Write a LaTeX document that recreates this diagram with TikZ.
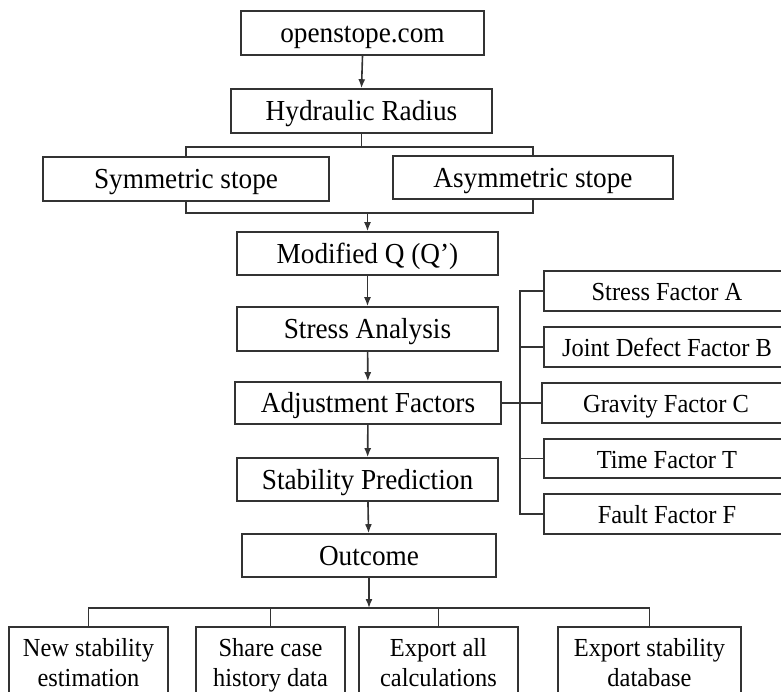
\documentclass[tikz,border=0pt]{standalone}
\usepackage{fontspec}
\setmainfont[FakeStretch=0.94]{Liberation Serif}
\usetikzlibrary{arrows.meta}
\begin{document}
\begin{tikzpicture}[x=1pt, y=-1pt, line width=1.6pt, draw=black!80,
	>={Latex[length=9pt,width=7pt]},
	box/.style={draw=black!80, rectangle, inner sep=0pt, minimum height=44pt, text height=19pt, text depth=0pt, font=\fontsize{29}{32}\selectfont},
	factor/.style={box, minimum width=246pt, minimum height=40pt, font=\fontsize{26}{28}\selectfont},
	result/.style={draw=black!80, rectangle, inner sep=0pt, minimum height=76pt, align=center, font=\fontsize{26}{30}\selectfont}]
\clip (0,0) rectangle (781,691);
% Kaesten links
	\node [box, minimum width=243pt] (site) at (362.5,33) {openstope.com};
	\node [box, minimum width=261pt] (hr) at (361.5,111) {Hydraulic Radius};
	\node [box, minimum width=286pt] (sym) at (186,179) {Symmetric stope};
	\node [box, minimum width=280pt, minimum height=43pt] (asym) at (533,177.5) {Asymmetric stope};
	\node [box, minimum width=261pt, minimum height=43pt] (modq) at (367.5,253.5) {Modified Q (Q’)};
	\node [box, minimum width=261pt] (stress) at (367.5,329) {Stress Analysis};
	\node [box, minimum width=266pt, minimum height=42pt] (adj) at (368,403) {Adjustment Factors};
	\node [box, minimum width=261pt, minimum height=43pt] (pred) at (367.5,479.5) {Stability Prediction};
	\node [box, minimum width=254pt, minimum height=43pt] (outc) at (369,555.5) {Outcome};
% Faktoren
	\node [factor] (fA) at (667,291) {Stress Factor A};
	\node [factor] (fB) at (667,347) {Joint Defect Factor B};
	\node [factor, minimum width=248pt] (fC) at (666,403) {Gravity Factor C};
	\node [factor, minimum height=39pt] (fT) at (667,458.5) {Time Factor T};
	\node [factor] (fF) at (667,514) {Fault Factor F};
% Ergebnisse
	\node [result, minimum width=159pt] (out1) at (88.5,665) {\strut New stability\\\strut estimation};
	\node [result, minimum width=149pt] (out2) at (270.5,665) {\strut Share case\\\strut history data};
	\node [result, minimum width=159pt] (out3) at (438.5,665) {\strut Export all\\\strut calculations};
	\node [result, minimum width=183pt] (out4) at (649.5,665) {\strut Export stability\\\strut database};
% Verzweigungen
	\coordinate (topbus) at (361.5,147);
	\coordinate (midbus) at (367.5,213);
	\coordinate (fbus) at (520,403);
	\coordinate (botbus) at (369,608);
% Linien
	\draw [->] (site.south) -- (hr.north);
	\draw (hr.south) -- (topbus);
	\draw (sym.north) |- (topbus) -| (asym.north);
	\draw (sym.south) |- (midbus) -| (asym.south);
	\draw [->] (midbus) -- (modq.north);
	\draw [->] (modq) -- (stress);
	\draw [->] (stress) -- (adj);
	\draw [->] (adj) -- (pred);
	\draw [->] (pred) -- (outc);
	\draw (adj.east) -- (fC.west);
	\draw (fA.west) -| (fbus) |- (fF.west);
	\draw (fB.west) -- (fB.west -| fbus);
	\draw (fT.west) -- (fT.west -| fbus);
	\draw [->] (outc.south) -- (botbus);
	\draw (out1.north) |- (botbus) -| (out4.north);
	\draw (out2.north) -- (out2.north |- botbus);
	\draw (out3.north) -- (out3.north |- botbus);
\end{tikzpicture}
\end{document}
